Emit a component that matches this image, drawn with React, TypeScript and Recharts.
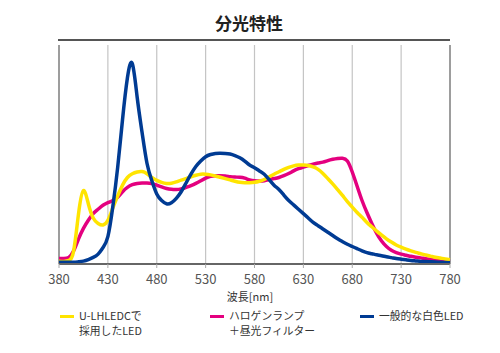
import React from 'react';
import { LineChart, Line, XAxis, YAxis, CartesianGrid, ReferenceLine } from 'recharts';

const wavelengths = [
  380, 385, 390, 395, 400, 405, 410, 415, 420, 425, 430, 435, 440, 445, 450, 455, 460, 465, 470, 475,
  480, 485, 490, 495, 500, 505, 510, 515, 520, 525, 530, 535, 540, 545, 550, 555, 560, 565, 570, 575,
  580, 585, 590, 595, 600, 605, 610, 615, 620, 625, 630, 635, 640, 645, 650, 655, 660, 665, 670, 675,
  680, 685, 690, 695, 700, 705, 710, 715, 720, 725, 730, 735, 740, 745, 750, 755, 760, 765, 770, 775, 780,
];

const uLhLed = [
  1.2, 1.2, 1.6, 6, 23, 33.5, 27.5, 21, 18.5, 17.8, 20, 25.5, 31, 36, 39.5, 41.2, 42, 42.2, 41.2, 39.5,
  38.2, 37.3, 36.8, 36.9, 37.5, 38.3, 39, 39.8, 40.5, 41, 41, 40.7, 40.2, 39.6, 39, 38.4, 37.8, 37.3, 37.1, 37.1,
  37.3, 37.8, 38.6, 39.8, 41, 42.1, 43.2, 44.1, 44.8, 45.2, 45.2, 45, 44.3, 43.2, 41.3, 39, 36.6, 34, 31.3, 28.5,
  26, 23.5, 21.3, 19, 17, 15, 13.2, 11.5, 10, 8.7, 7.7, 6.8, 6, 5.3, 4.7, 4.1, 3.6, 3.1, 2.7, 2.3, 2,
];

const halogen = [
  2.5, 2.5, 3, 6, 11.5, 16.3, 20, 23, 25, 26.8, 28, 29, 30.5, 33, 35, 36.2, 36.8, 37, 37, 36.7,
  36, 35.2, 34.5, 34.1, 34, 34.3, 35, 35.8, 36.8, 38, 39.2, 40, 40.3, 40.3, 40.2, 39.9, 39.7, 39.6, 39.2, 38.4,
  38, 37.9, 38, 38.5, 39, 39.5, 40.3, 41.3, 42.5, 43.5, 44.3, 45, 45.6, 46.1, 46.5, 47.2, 47.8, 48.2, 48.3, 47,
  42, 35.5, 29, 23.5, 18.5, 14, 10.5, 8, 6.3, 5.2, 4.5, 4, 3.5, 3.1, 2.8, 2.4, 2.1, 1.8, 1.6, 1.4, 1.2,
];

const whiteLed = [
  0.8, 0.8, 0.8, 0.8, 1, 1.3, 2, 3, 4.5, 7.5, 12.5, 26, 44, 66, 85, 91.5, 76, 60, 46, 38,
  32, 29, 27.5, 28, 30, 33, 37, 41, 44.5, 47, 49, 50, 50.5, 50.6, 50.5, 50.2, 49.5, 48.5, 47, 45.2,
  44, 42.5, 41, 38.5, 36, 34, 31.5, 29, 27, 25, 23, 21, 19, 17.5, 16, 14.5, 13, 11.5, 10.2, 9,
  8, 7, 6, 5.2, 4.7, 4.2, 3.8, 3.3, 2.9, 2.5, 2.2, 1.9, 1.6, 1.4, 1.2, 1.1, 1, 0.9, 0.8, 0.7, 0.6,
];

const xTicks = [380, 430, 480, 530, 580, 630, 680, 730, 780];

const title = '分光特性';
const xLabel = '波長[nm]';

const series = [
  { key: 'halogen', color: '#E4007F' },
  { key: 'uLhLed', color: '#FFE400' },
  { key: 'whiteLed', color: '#003B93' },
];

const legendItems = [
  { color: '#FFE400', lines: ['U-LHLEDCで', '採用したLED'], left: 60 },
  { color: '#E4007F', lines: ['ハロゲンランプ', '＋昼光フィルター'], left: 210 },
  { color: '#003B93', lines: ['一般的な白色LED'], left: 360 },
];

const data = wavelengths.map((nm, i) => ({
  nm,
  uLhLed: uLhLed[i],
  halogen: halogen[i],
  whiteLed: whiteLed[i],
}));

const FONT = '"Noto Sans CJK JP", "Noto Sans", sans-serif';

export default function App() {
  return (
    <div style={{ position: 'fixed', left: 0, top: 0, width: 500, height: 353, background: '#fff', fontFamily: FONT }}>
      <div
        style={{
          position: 'absolute', left: 0, top: 10, width: 498, textAlign: 'center',
          fontSize: 17, fontWeight: 700, color: '#222', lineHeight: '26px',
        }}
      >
        {title}
      </div>
      <div style={{ position: 'absolute', left: 58, top: 39, width: 392, height: 2, background: '#555' }} />
      <LineChart
        width={500}
        height={353}
        data={data}
        margin={{ top: 45, right: 50, bottom: 0, left: 59 }}
      >
        <CartesianGrid horizontal={false} vertical stroke="#c4c4c4" strokeWidth={1.2} />
        <XAxis
          dataKey="nm"
          type="number"
          domain={[380, 780]}
          ticks={xTicks}
          interval={0}
          height={89}
          axisLine={{ stroke: '#666', strokeWidth: 2 }}
          tickLine={{ stroke: '#aaa' }}
          tickSize={4}
          tickMargin={7}
          tick={{ fill: '#555', fontSize: 13, fontFamily: FONT }}
        />
        <YAxis hide domain={[0, 100]} type="number" />
        <ReferenceLine x={380} stroke="#888" strokeWidth={1.5} ifOverflow="visible" />
        <ReferenceLine x={780} stroke="#888" strokeWidth={1.5} ifOverflow="visible" />
        {series.map((s) => (
          <Line
            key={s.key}
            dataKey={s.key}
            type="natural"
            stroke={s.color}
            strokeWidth={3.5}
            dot={false}
            activeDot={false}
            isAnimationActive={false}
          />
        ))}
      </LineChart>
      <div
        style={{
          position: 'absolute', left: 0, top: 289, width: 500, textAlign: 'center',
          fontSize: 11, color: '#333', lineHeight: '14px',
        }}
      >
        {xLabel}
      </div>
      {legendItems.map((item) => (
        <div key={item.left} style={{ position: 'absolute', left: item.left, top: 308, display: 'flex' }}>
          <div style={{ width: 14, height: 3, background: item.color, marginTop: 7, marginRight: 5 }} />
          <div style={{ fontSize: 10.8, color: '#333', lineHeight: '14.5px' }}>
            {item.lines.map((l) => (
              <div key={l}>{l}</div>
            ))}
          </div>
        </div>
      ))}
    </div>
  );
}
